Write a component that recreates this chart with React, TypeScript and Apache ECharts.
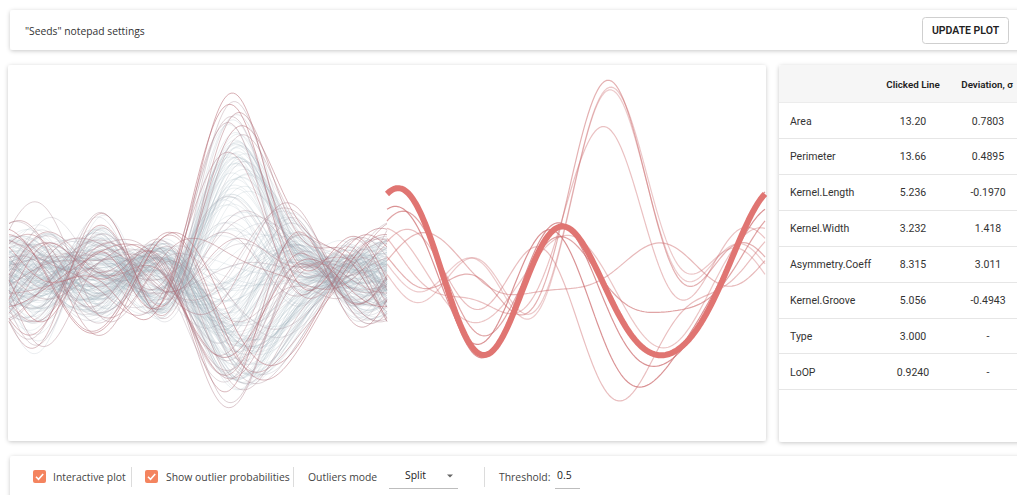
import React, { useEffect, useRef } from "react";
import * as echarts from "echarts";

// ---------- data ----------
// columns: area, perimeter, kernel length, kernel width, asymmetry coeff, kernel groove, LoOP
const KAMA: number[][] = [
  [15.26,14.84,5.763,3.312,2.221,5.22,0.08],[14.88,14.57,5.554,3.333,1.018,4.956,0.12],
  [14.29,14.09,5.291,3.337,2.699,4.825,0.1],[13.84,13.94,5.324,3.379,2.259,4.805,0.14],
  [16.14,14.99,5.658,3.562,1.355,5.175,0.2],[14.38,14.21,5.386,3.312,2.462,4.956,0.06],
  [14.69,14.49,5.563,3.259,3.586,5.219,0.05],[14.11,14.1,5.42,3.302,2.7,5.0,0.05],
  [16.63,15.46,6.053,3.465,2.04,5.877,0.28],[16.44,15.25,5.884,3.505,1.969,5.533,0.18],
  [15.26,14.85,5.714,3.242,4.543,5.314,0.12],[14.03,14.16,5.438,3.201,1.717,5.001,0.07],
  [13.89,14.02,5.439,3.199,3.986,4.738,0.09],[13.78,14.06,5.479,3.156,3.136,4.872,0.06],
  [13.74,14.05,5.482,3.114,2.932,4.825,0.07],[14.59,14.28,5.351,3.333,4.185,4.781,0.11],
  [13.99,13.83,5.119,3.383,5.234,4.781,0.3],[15.69,14.75,5.527,3.514,1.599,5.046,0.16],
  [14.7,14.21,5.205,3.466,1.767,4.649,0.22],[12.72,13.57,5.226,3.049,4.102,4.914,0.1],
  [14.16,14.4,5.658,3.129,3.072,5.176,0.06],[14.11,14.26,5.52,3.168,2.688,5.219,0.05],
  [15.88,14.9,5.618,3.507,0.7651,5.091,0.34],[12.08,13.23,5.099,2.936,1.415,4.961,0.26],
  [15.01,14.76,5.789,3.245,1.791,5.001,0.12],[16.19,15.16,5.833,3.421,0.903,5.307,0.3],
  [13.02,13.76,5.395,3.026,3.373,4.825,0.06],[12.74,13.67,5.395,2.956,2.504,4.869,0.08],
  [14.11,14.18,5.541,3.221,2.754,5.038,0.04],[13.45,14.02,5.516,3.065,3.531,5.097,0.05],
  [13.16,13.82,5.454,2.975,0.8551,5.056,0.32],[15.49,14.94,5.757,3.371,3.412,5.228,0.08],
  [14.09,14.41,5.717,3.186,3.92,5.299,0.09],[13.94,14.17,5.585,3.15,2.124,5.012,0.05],
  [15.05,14.68,5.712,3.328,2.129,5.36,0.06],[16.12,15.0,5.709,3.485,2.27,5.443,0.12],
  [16.2,15.27,5.826,3.464,2.823,5.527,0.14],[17.08,15.38,5.832,3.683,2.956,5.484,0.27],
  [14.8,14.52,5.656,3.288,3.112,5.309,0.04],[14.28,14.17,5.397,3.298,6.685,5.001,0.66],
  [13.54,13.85,5.348,3.156,2.587,5.178,0.06],[13.5,13.85,5.351,3.158,2.249,5.176,0.07],
  [13.16,13.55,5.138,3.201,2.461,4.783,0.12],[15.5,14.86,5.877,3.396,4.711,5.528,0.15],
  [15.11,14.54,5.579,3.462,3.128,5.18,0.07],[13.8,14.04,5.376,3.155,1.56,4.961,0.1],
  [15.36,14.76,5.701,3.393,1.367,5.132,0.14],[14.99,14.56,5.57,3.377,2.958,5.175,0.04],
  [14.79,14.52,5.545,3.291,2.704,5.111,0.04],[14.86,14.67,5.678,3.258,2.129,5.351,0.06],
  [14.43,14.4,5.585,3.272,3.975,5.144,0.06],[15.78,14.91,5.674,3.434,5.593,5.136,0.36],
  [14.49,14.61,5.715,3.113,4.116,5.396,0.1],[14.33,14.28,5.504,3.199,3.328,5.224,0.04],
  [14.52,14.6,5.741,3.113,1.481,5.487,0.16],[15.03,14.77,5.702,3.212,1.933,5.439,0.1],
  [14.46,14.35,5.388,3.377,2.802,5.044,0.08],[14.92,14.43,5.384,3.412,1.142,5.088,0.2],
  [15.38,14.77,5.662,3.419,1.999,5.222,0.07],[12.11,13.47,5.159,3.032,1.502,4.519,0.38],
  [11.42,12.86,5.008,2.85,2.7,4.607,0.3],[11.23,12.63,4.902,2.879,2.269,4.703,0.33],
  [12.36,13.19,5.076,3.042,3.22,4.605,0.22],[13.22,13.84,5.395,3.07,4.157,5.088,0.06],
  [12.78,13.57,5.262,3.026,1.176,4.782,0.24],[12.88,13.5,5.139,3.119,2.352,4.607,0.2],
  [14.34,14.37,5.63,3.19,1.313,5.15,0.14],[14.01,14.29,5.609,3.158,2.217,5.132,0.06],
  [14.37,14.39,5.569,3.153,1.464,5.3,0.12],[12.73,13.75,5.412,2.882,3.533,5.067,0.1],
];
const ROSA: number[][] = [
  [17.63,15.98,6.191,3.561,4.076,6.06,0.1],[16.84,15.67,5.998,3.484,4.675,5.877,0.08],
  [17.26,15.73,5.978,3.594,4.539,5.791,0.07],[19.11,16.26,6.154,3.93,2.936,6.079,0.1],
  [16.82,15.51,6.017,3.486,4.004,5.841,0.07],[16.77,15.62,5.927,3.438,4.92,5.795,0.1],
  [17.32,15.91,6.064,3.403,3.824,5.922,0.08],[20.71,17.23,6.579,3.814,4.451,6.451,0.4],
  [18.94,16.49,6.445,3.639,5.064,6.362,0.14],[17.12,15.55,5.85,3.566,2.858,5.746,0.06],
  [16.53,15.34,5.875,3.467,5.532,5.88,0.16],[18.72,16.19,6.006,3.857,5.324,5.879,0.14],
  [20.2,16.89,6.285,3.864,5.173,6.187,0.3],[19.57,16.74,6.384,3.772,1.472,6.273,0.3],
  [19.51,16.71,6.366,3.801,2.962,6.185,0.1],[18.27,16.09,6.173,3.651,2.443,6.197,0.06],
  [18.88,16.26,6.084,3.764,1.649,6.109,0.2],[18.98,16.66,6.549,3.67,3.691,6.498,0.16],
  [21.18,17.21,6.573,4.033,5.78,6.231,0.62],[20.88,17.05,6.45,4.032,5.016,6.321,0.54],
  [20.1,16.99,6.581,3.785,1.955,6.449,0.36],[18.76,16.2,6.172,3.796,3.12,6.053,0.04],
  [18.81,16.29,6.272,3.693,3.237,6.053,0.04],[18.59,16.05,6.037,3.86,6.001,5.877,0.34],
  [18.36,16.52,6.666,3.485,4.933,6.448,0.32],[16.87,15.65,6.139,3.463,3.696,5.967,0.08],
  [19.31,16.59,6.341,3.81,3.477,6.238,0.05],[18.98,16.57,6.449,3.552,2.144,6.453,0.16],
  [18.17,16.26,6.271,3.512,2.853,6.273,0.1],[18.72,16.34,6.219,3.684,2.188,6.097,0.07],
  [16.41,15.25,5.718,3.525,4.217,5.618,0.1],[17.99,15.86,5.89,3.694,2.068,5.837,0.1],
  [19.46,16.5,6.113,3.892,4.308,6.009,0.08],[19.18,16.63,6.369,3.681,3.357,6.229,0.04],
  [18.95,16.42,6.248,3.755,3.368,6.148,0.03],[18.83,16.29,6.037,3.786,2.553,5.879,0.05],
  [18.85,16.17,6.152,3.806,2.843,6.2,0.06],[17.63,15.86,6.033,3.573,3.747,5.929,0.05],
  [19.94,16.92,6.675,3.763,3.252,6.55,0.28],[18.55,16.22,6.153,3.674,1.738,5.894,0.14],
  [18.45,16.12,6.107,3.769,2.235,5.794,0.08],[19.38,16.72,6.303,3.791,3.678,5.965,0.06],
  [19.13,16.31,6.183,3.902,2.109,5.924,0.1],[19.14,16.61,6.259,3.737,6.682,6.053,0.57],
  [20.97,17.25,6.563,3.991,4.677,6.316,0.55],[19.06,16.45,6.416,3.719,2.248,6.163,0.08],
  [18.96,16.2,6.051,3.897,4.334,5.75,0.1],[19.15,16.45,6.245,3.815,3.084,6.185,0.04],
  [18.89,16.23,6.227,3.769,3.639,5.966,0.04],[20.03,16.9,6.493,3.857,3.063,6.32,0.2],
  [20.24,16.91,6.315,3.962,5.901,6.188,0.42],[18.14,16.12,6.059,3.563,3.619,6.011,0.05],
  [16.17,15.38,5.762,3.387,4.286,5.703,0.08],[18.43,15.97,5.98,3.771,2.984,5.905,0.06],
  [15.99,14.89,5.363,3.582,3.336,5.144,0.6],[18.75,16.18,6.111,3.869,4.188,5.992,0.05],
  [18.65,16.41,6.285,3.594,4.391,6.102,0.06],[17.98,15.85,5.979,3.687,2.257,5.919,0.08],
  [20.16,17.03,6.513,3.773,1.91,6.185,0.38],[17.55,15.66,5.791,3.69,5.366,5.661,0.22],
  [18.3,15.89,5.979,3.755,2.837,5.962,0.05],[18.94,16.32,6.144,3.825,2.908,5.949,0.04],
  [15.38,14.9,5.884,3.268,4.462,5.795,0.3],[16.16,15.33,5.845,3.395,4.266,5.795,0.12],
  [15.56,14.89,5.776,3.408,4.972,5.847,0.2],[15.38,14.66,5.477,3.465,3.6,5.439,0.26],
  [17.36,15.76,6.145,3.574,3.526,5.971,0.06],[15.57,15.15,5.92,3.231,2.64,5.879,0.34],
  [15.6,15.11,5.832,3.286,2.725,5.752,0.24],[16.23,15.18,5.872,3.472,3.769,5.922,0.1],
];
const CANADIAN: number[][] = [
  [13.07,13.92,5.472,2.994,5.304,5.395,0.12],[13.32,13.94,5.541,3.073,7.035,5.44,0.56],
  [13.34,13.95,5.389,3.074,5.995,5.307,0.26],[12.22,13.32,5.224,2.967,5.469,5.221,0.06],
  [11.82,13.4,5.314,2.777,4.471,5.178,0.05],[11.21,13.13,5.279,2.687,6.169,5.275,0.2],
  [11.43,13.13,5.176,2.719,2.221,5.132,0.34],[12.49,13.46,5.267,2.967,4.421,5.002,0.05],
  [12.7,13.71,5.386,2.911,3.26,5.316,0.14],[10.79,12.93,5.317,2.648,5.462,5.194,0.2],
  [11.83,13.23,5.263,2.84,5.195,5.307,0.04],[12.01,13.52,5.405,2.776,6.992,5.27,0.4],
  [12.26,13.6,5.408,2.833,4.756,5.36,0.06],[11.18,13.04,5.22,2.693,3.332,5.001,0.1],
  [11.36,13.05,5.175,2.755,4.048,5.263,0.05],[11.19,13.05,5.25,2.675,5.813,5.219,0.14],
  [11.34,12.87,5.053,2.849,3.347,5.003,0.1],[12.13,13.73,5.394,2.745,4.825,5.22,0.1],
  [11.75,13.52,5.444,2.678,4.378,5.31,0.1],[11.49,13.22,5.304,2.695,5.388,5.31,0.05],
  [12.54,13.67,5.451,2.879,3.082,5.491,0.2],[12.02,13.33,5.35,2.81,4.271,5.308,0.04],
  [12.05,13.41,5.267,2.847,4.988,5.046,0.04],[12.55,13.57,5.333,2.968,4.419,5.176,0.05],
  [11.14,12.79,5.011,2.794,6.388,5.049,0.28],[12.1,13.15,5.105,2.941,2.201,5.056,0.3],
  [12.44,13.59,5.319,2.897,4.924,5.27,0.04],[12.15,13.45,5.417,2.837,3.638,5.338,0.06],
  [11.35,13.12,5.176,2.668,4.337,5.132,0.04],[11.24,13.0,5.09,2.715,3.521,5.088,0.06],
  [11.02,13.0,5.325,2.701,6.735,5.163,0.38],[11.55,13.1,5.167,2.845,6.715,4.956,0.36],
  [11.27,12.97,5.088,2.763,4.309,5.0,0.04],[11.4,13.08,5.136,2.763,5.588,5.089,0.06],
  [10.83,12.96,5.278,2.641,5.182,5.185,0.12],[10.8,12.57,4.981,2.821,4.773,5.063,0.24],
  [11.26,13.01,5.186,2.71,5.335,5.092,0.04],[10.74,12.73,5.145,2.642,4.702,4.963,0.3],
  [11.48,13.05,5.18,2.758,5.876,5.002,0.1],[12.21,13.47,5.357,2.893,1.661,5.178,0.42],
  [11.41,12.95,5.09,2.775,4.957,4.825,0.1],[12.46,13.41,5.236,3.017,4.987,5.147,0.06],
  [12.19,13.36,5.24,2.909,4.857,5.158,0.03],[11.65,13.07,5.108,2.85,5.209,5.135,0.03],
  [12.89,13.77,5.495,3.026,6.185,5.316,0.22],[11.56,13.31,5.363,2.683,4.062,5.182,0.06],
  [11.81,13.45,5.413,2.716,4.898,5.352,0.08],[10.91,12.8,5.088,2.675,4.179,4.956,0.12],
  [11.23,12.82,5.089,2.821,7.524,4.957,0.71],[10.59,12.41,4.899,2.787,4.975,4.794,0.58],
  [10.93,12.8,5.046,2.717,5.398,5.045,0.1],[11.27,12.86,5.091,2.804,3.985,5.001,0.04],
  [11.87,13.02,5.132,2.953,3.597,5.132,0.05],[10.82,12.83,5.18,2.63,4.853,5.089,0.16],
  [12.11,13.27,5.236,2.975,4.132,5.012,0.04],[12.8,13.47,5.16,3.126,4.873,4.914,0.1],
  [12.79,13.53,5.224,3.054,5.483,4.958,0.08],[13.37,13.78,5.32,3.128,4.67,5.091,0.12],
  [12.62,13.67,5.41,2.911,3.306,5.231,0.1],[12.76,13.38,5.073,3.155,2.828,4.83,0.26],
  [12.38,13.44,5.219,2.989,5.472,5.045,0.05],[12.67,13.32,4.984,3.135,2.3,4.745,0.36],
  [11.18,12.72,5.009,2.81,4.051,4.828,0.1],[12.7,13.41,5.183,3.091,8.456,5.0,0.81],
  [12.37,13.47,5.204,2.96,3.919,5.001,0.04],[12.19,13.2,5.137,2.981,3.631,4.87,0.06],
  [11.23,12.88,5.14,2.795,4.325,5.003,0.05],[13.2,13.66,5.236,3.232,8.315,5.056,0.924],
  [11.84,13.21,5.175,2.836,3.598,5.044,0.04],[12.3,13.34,5.243,2.974,5.637,5.063,0.1],
];

const TABLE_ROWS = ["Area", "Perimeter", "Kernel.Length", "Kernel.Width", "Asymmetry.Coeff", "Kernel.Groove", "Type", "LoOP"];
const CLICKED_VALUES = ["13.20", "13.66", "5.236", "3.232", "8.315", "5.056", "3.000", "0.9240"];
const DEVIATIONS = ["0.7803", "0.4895", "-0.1970", "1.418", "3.011", "-0.4943", "-", "-"];
const TABLE_HEADERS = ["Clicked Line", "Deviation, σ"];
const CONTROL_LABELS = ["Interactive plot", "Show outlier probabilities", "Outliers mode", "Split", "Threshold:", "0.5"];
const THRESHOLD = 0.5;
const CLICKED_LOOP = 0.924;
const N_STEPS = 160;

function andrews(z: number[], t: number) {
  return (
    z[0] / Math.SQRT2 +
    z[1] * Math.sin(t) +
    z[2] * Math.cos(t) +
    z[3] * Math.sin(2 * t) +
    z[4] * Math.cos(2 * t) +
    z[5] * Math.sin(3 * t)
  );
}

function mix(a: number[], b: number[], m: number) {
  return a.map((v, i) => v + (b[i] - v) * m);
}

function buildSeries() {
  const rows = [...KAMA, ...ROSA, ...CANADIAN];
  const nf = 6;
  const means: number[] = [];
  const sds: number[] = [];
  for (let j = 0; j < nf; j++) {
    const m = rows.reduce((s, r) => s + r[j], 0) / rows.length;
    const v = rows.reduce((s, r) => s + (r[j] - m) * (r[j] - m), 0) / (rows.length - 1);
    means.push(m);
    sds.push(Math.sqrt(v));
  }
  const ts: number[] = [];
  for (let i = 0; i <= N_STEPS; i++) ts.push(-Math.PI + (2 * Math.PI * i) / N_STEPS);
  const sorted = rows.slice().sort((a, b) => a[6] - b[6]);
  const base = [160, 180, 192];
  const red = [180, 104, 114];
  const series: any[] = [];
  const right: any[] = [];
  let clicked: any = null;
  sorted.forEach((r) => {
    const z = r.slice(0, nf).map((v, j) => (v - means[j]) / sds[j]);
    const data = ts.map((t) => [t, andrews(z, t)]);
    const p = r[6];
    if (p > THRESHOLD) {
      if (p === CLICKED_LOOP) {
        clicked = {
          type: "line", xAxisIndex: 1, yAxisIndex: 1, data, showSymbol: false, symbol: "none", silent: true,
          lineStyle: { color: "#e07572", width: 6, opacity: 1 }, z: 4,
        };
      } else {
        const a = Math.min(0.72, 0.26 + (p - THRESHOLD) * 2.2);
        right.push({
          type: "line", xAxisIndex: 1, yAxisIndex: 1, data, showSymbol: false, symbol: "none", silent: true,
          lineStyle: { color: "rgb(204,106,108)", width: 1.2, opacity: a }, z: 3,
        });
      }
    } else {
      const m = Math.max(0, Math.min(1, (p - 0.15) / 0.25));
      const c = mix(base, red, m).map((v) => Math.round(v));
      const a = 0.2 + 0.32 * m;
      series.push({
        type: "line", xAxisIndex: 0, yAxisIndex: 0, data, showSymbol: false, symbol: "none", silent: true,
        lineStyle: { color: `rgb(${c[0]},${c[1]},${c[2]})`, width: 1, opacity: a }, z: 2,
      });
    }
  });
  return [...series, ...right, ...(clicked ? [clicked] : [])];
}

const FONT = "Roboto, 'Open Sans', sans-serif";
const UI_FONT = "'Open Sans', sans-serif";

function txt(text: string, x: number, y: number, opts: any = {}) {
  return {
    type: "text",
    x, y,
    z: 10,
    silent: true,
    style: {
      text,
      fill: opts.fill || "#333",
      fontSize: opts.fontSize || 11,
      fontFamily: opts.fontFamily || FONT,
      fontWeight: opts.fontWeight || "normal",
      align: opts.align || "left",
      textAlign: opts.align || "left",
      verticalAlign: "middle",
      textVerticalAlign: "middle",
    },
  };
}

function card(x: number, y: number, w: number, h: number) {
  return {
    type: "rect", z: 0, silent: true,
    shape: { x, y, width: w, height: h, r: 3 },
    style: { fill: "#fff", shadowBlur: 4, shadowColor: "rgba(0,0,0,0.22)", shadowOffsetY: 1 },
  };
}

function checkbox(x: number, y: number) {
  return [
    { type: "rect", z: 10, silent: true, shape: { x, y, width: 13, height: 13, r: 2 }, style: { fill: "#f4845f" } },
    {
      type: "polyline", z: 11, silent: true,
      shape: { points: [[x + 3, y + 6.8], [x + 5.5, y + 9.3], [x + 10.2, y + 4]] },
      style: { stroke: "#fff", lineWidth: 1.6, fill: "none" },
    },
  ];
}

function vline(x: number, y1: number, y2: number, color = "#dcdcdc") {
  return { type: "line", z: 10, silent: true, shape: { x1: x, y1, x2: x, y2 }, style: { stroke: color, lineWidth: 1 } };
}
function hline(x1: number, x2: number, y: number, color = "#e6e6e6") {
  return { type: "line", z: 10, silent: true, shape: { x1, y1: y, x2, y2: y }, style: { stroke: color, lineWidth: 1 } };
}

function buildGraphics() {
  const g: any[] = [];
  // cards
  g.push(card(10, 10, 1020, 40));
  g.push(card(8, 65, 758, 376));
  g.push(card(779, 65, 250, 377));
  g.push(card(10, 456, 1020, 50));
  // top bar
  g.push(txt('"Seeds" notepad settings', 25, 31, { fontSize: 10.3, fill: "#333", fontFamily: UI_FONT }));
  g.push({
    type: "rect", z: 10, silent: true,
    shape: { x: 922.5, y: 17.5, width: 86, height: 26, r: 3 },
    style: { fill: "#fff", stroke: "#cfcfcf", lineWidth: 1 },
  });
  g.push(txt("UPDATE PLOT", 965.5, 30.5, { fontSize: 10.5, fontWeight: 600, align: "center", fill: "#222" }));
  // table
  g.push({
    type: "rect", z: 1, silent: true,
    shape: { x: 779, y: 65, width: 250, height: 38, r: [3, 0, 0, 0] },
    style: { fill: "#f6f6f6" },
  });
  g.push(txt(TABLE_HEADERS[0], 913, 84, { fontSize: 9.8, fontWeight: 600, align: "center", fill: "#222" }));
  g.push(txt(TABLE_HEADERS[1], 987, 84, { fontSize: 9.8, fontWeight: 600, align: "center", fill: "#222" }));
  g.push(hline(779, 1017, 102.5, "#ececec"));
  TABLE_ROWS.forEach((name, i) => {
    const yc = 121 + i * 35.9;
    g.push(txt(name, 790, yc, { fontSize: 10.5, fill: "#333" }));
    g.push(txt(CLICKED_VALUES[i], 913, yc, { fontSize: 10.5, fill: "#333", align: "center" }));
    g.push(txt(DEVIATIONS[i], 988, yc, { fontSize: 10.5, fill: "#333", align: "center" }));
    g.push(hline(779, 1017, Math.round(138 + i * 35.9) + 0.5));
  });
  // bottom controls
  const fs = 10.4;
  g.push(...checkbox(33, 470));
  g.push(txt(CONTROL_LABELS[0], 53, 476.5, { fontSize: fs, fill: "#444", fontFamily: UI_FONT }));
  g.push(vline(131.5, 467, 487));
  g.push(...checkbox(145, 470));
  g.push(txt(CONTROL_LABELS[1], 166, 476.5, { fontSize: fs, fill: "#444", fontFamily: UI_FONT }));
  g.push(vline(293.5, 467, 487));
  g.push(txt(CONTROL_LABELS[2], 308, 476.5, { fontSize: fs, fill: "#444", fontFamily: UI_FONT }));
  g.push(txt(CONTROL_LABELS[3], 405, 475, { fontSize: fs, fill: "#222", fontFamily: UI_FONT }));
  g.push({
    type: "polygon", z: 10, silent: true,
    shape: { points: [[447, 474.5], [453, 474.5], [450, 477.5]] },
    style: { fill: "#666" },
  });
  g.push(hline(389, 458, 488.5, "#bdbdbd"));
  g.push(vline(484.5, 467, 487));
  g.push(txt(CONTROL_LABELS[4], 499, 476.5, { fontSize: fs, fill: "#444", fontFamily: UI_FONT }));
  g.push(txt(CONTROL_LABELS[5], 557, 475, { fontSize: fs, fill: "#222", fontFamily: UI_FONT }));
  g.push(hline(555, 580, 488.5, "#bdbdbd"));
  return g;
}

export default function App() {
  const ref = useRef<HTMLDivElement>(null);
  useEffect(() => {
    if (!ref.current) return;
    const chart = echarts.init(ref.current, null, { renderer: "svg" });
    const yMin = -7.28;
    const yMax = 9.21;
    chart.setOption({
      animation: false,
      backgroundColor: "#ffffff",
      grid: [
        { left: 9, top: 65, width: 378, height: 376 },
        { left: 387, top: 65, width: 378, height: 376 },
      ],
      xAxis: [
        { type: "value", gridIndex: 0, min: -Math.PI, max: Math.PI, show: false },
        { type: "value", gridIndex: 1, min: -Math.PI, max: Math.PI, show: false },
      ],
      yAxis: [
        { type: "value", gridIndex: 0, min: yMin, max: yMax, show: false },
        { type: "value", gridIndex: 1, min: yMin, max: yMax, show: false },
      ],
      graphic: { elements: buildGraphics() },
      series: buildSeries(),
    });
    return () => chart.dispose();
  }, []);
  return (
    <div
      ref={ref}
      style={{ position: "fixed", left: 0, top: 0, width: 1017, height: 495 }}
    />
  );
}
